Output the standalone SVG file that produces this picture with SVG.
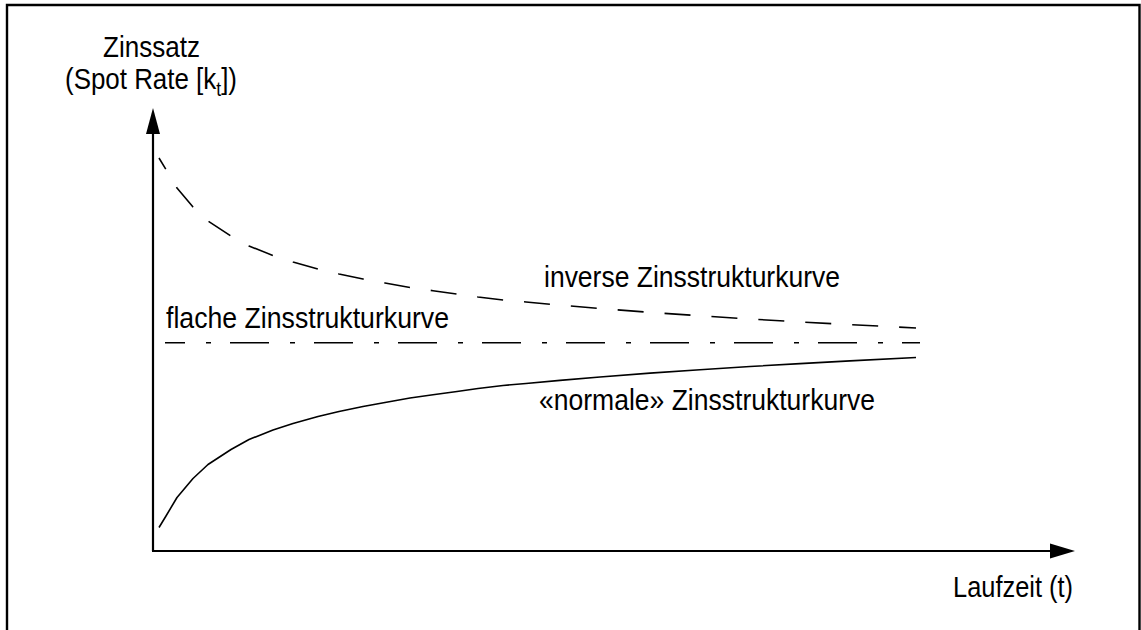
<svg xmlns="http://www.w3.org/2000/svg" xmlns:xlink="http://www.w3.org/1999/xlink" width="1141" height="630" viewBox="0 0 1141 630">
  <style>
    .lbl { font-family: "Liberation Sans", Arial, sans-serif; font-size: 29.5px; fill: #000; }
    .sub { font-size: 20px; }
    .axis { stroke: #000; stroke-width: 2.2; fill: none; }
    .frame { stroke: #000; stroke-width: 2.4; fill: none; }
    .curve { fill: none; stroke: #000; stroke-width: 1.6; stroke-linejoin: round; }
    .inverse { stroke-dasharray: 26 21; stroke-dashoffset: 13; }
    .flat { stroke-dasharray: 39 21 5 19; stroke-dashoffset: 19; }
  </style>
  <defs>
    <!-- falling yield curve; the rising one is its mirror image about y = 342.75 -->
    <path id="decay" d="M159,158 L166,169.5 L177,188 L193,207 L208,221 L231,236 L249,246 L273,255.5 L293,262 L318,269 L339,274 L363,279 L385,283 L410,287.5 L433,290.7 L457,294 L478,297 L503,300 L526,302 L560,305.1 L600,308.5 L650,312.4 L700,315.8 L750,319 L800,321.9 L850,324.6 L916,328"/>
  </defs>

  <rect width="1141" height="630" fill="#fff"/>

  <!-- outer frame (open at the bottom edge) -->
  <path class="frame" d="M7,632 L7,5 L1139.5,5 L1139.5,632"/>

  <!-- axes -->
  <g id="axes">
    <line class="axis" x1="153" y1="551" x2="153" y2="132"/>
    <polygon points="153,108 146,134 160,134" fill="#000"/>
    <line class="axis" x1="152" y1="551" x2="1052" y2="551"/>
    <polygon points="1075,551 1050,543.5 1050,558.5" fill="#000"/>
  </g>

  <!-- curves -->
  <g id="connectors">
    <use xlink:href="#decay" href="#decay" class="curve inverse"/>
    <line class="curve flat" x1="165" y1="342.75" x2="920" y2="342.75"/>
    <use xlink:href="#decay" href="#decay" class="curve" transform="matrix(1 0 0 -1 0 685.5)"/>
  </g>

  <!-- axis labels -->
  <g id="y-label">
    <text class="lbl" x="103" y="57" textLength="97" lengthAdjust="spacingAndGlyphs">Zinssatz</text>
    <text class="lbl" x="65" y="89" textLength="172" lengthAdjust="spacingAndGlyphs">(Spot Rate [k<tspan class="sub" dy="7">t</tspan><tspan dy="-7">])</tspan></text>
  </g>
  <g id="x-label">
    <text class="lbl" x="953" y="597" textLength="120" lengthAdjust="spacingAndGlyphs">Laufzeit (t)</text>
  </g>

  <!-- curve labels -->
  <g id="label-inverse">
    <text class="lbl" x="544" y="287" textLength="296" lengthAdjust="spacingAndGlyphs">inverse Zinsstrukturkurve</text>
  </g>
  <g id="label-flat">
    <text class="lbl" x="166" y="328" textLength="283" lengthAdjust="spacingAndGlyphs">flache Zinsstrukturkurve</text>
  </g>
  <g id="label-normal">
    <text class="lbl" x="539" y="410" textLength="336" lengthAdjust="spacingAndGlyphs">«normale» Zinsstrukturkurve</text>
  </g>
</svg>
